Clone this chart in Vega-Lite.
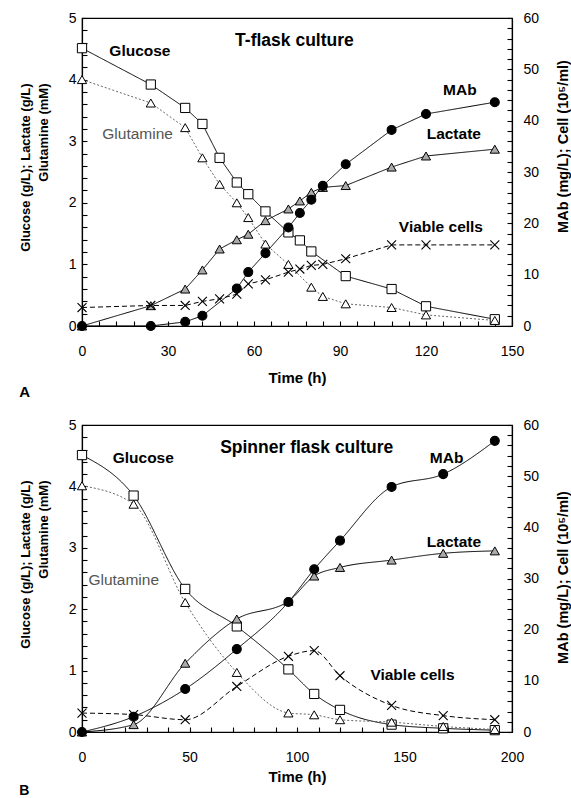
{
  "$schema": "https://vega.github.io/schema/vega-lite/v6.json",
  "padding": {"left": 18, "top": 10, "right": 0, "bottom": 0},
  "spacing": 16,
  "config": {
    "font": "Liberation Sans",
    "view": {"stroke": "black", "strokeWidth": 1.2},
    "axis": {"grid": false, "domainColor": "black", "domainWidth": 1.2, "tickColor": "black", "tickSize": -5, "tickWidth": 1.1, "labelColor": "black", "labelFontSize": 14, "labelFont": "Liberation Sans", "titleColor": "black", "titleFont": "Liberation Sans", "titleFontWeight": "bold", "labelOverlap": false, "labelFlush": false, "labelBound": false},
    "title": {"color": "black", "font": "Liberation Sans"}
  },
  "datasets": {
    "obs": [
      {"panel": "A", "series": "Glucose", "time": 0, "value": 4.51},
      {"panel": "A", "series": "Glucose", "time": 24, "value": 3.92},
      {"panel": "A", "series": "Glucose", "time": 36, "value": 3.54},
      {"panel": "A", "series": "Glucose", "time": 42, "value": 3.28},
      {"panel": "A", "series": "Glucose", "time": 48, "value": 2.73},
      {"panel": "A", "series": "Glucose", "time": 54, "value": 2.33},
      {"panel": "A", "series": "Glucose", "time": 58, "value": 2.14},
      {"panel": "A", "series": "Glucose", "time": 64, "value": 1.86},
      {"panel": "A", "series": "Glucose", "time": 72, "value": 1.52},
      {"panel": "A", "series": "Glucose", "time": 76, "value": 1.39},
      {"panel": "A", "series": "Glucose", "time": 80, "value": 1.21},
      {"panel": "A", "series": "Glucose", "time": 92, "value": 0.81},
      {"panel": "A", "series": "Glucose", "time": 108, "value": 0.6},
      {"panel": "A", "series": "Glucose", "time": 120, "value": 0.32},
      {"panel": "A", "series": "Glucose", "time": 144, "value": 0.11},
      {"panel": "A", "series": "Glutamine", "time": 0, "value": 4.0},
      {"panel": "A", "series": "Glutamine", "time": 24, "value": 3.62},
      {"panel": "A", "series": "Glutamine", "time": 36, "value": 3.22},
      {"panel": "A", "series": "Glutamine", "time": 42, "value": 2.73},
      {"panel": "A", "series": "Glutamine", "time": 48, "value": 2.3},
      {"panel": "A", "series": "Glutamine", "time": 54, "value": 2.0},
      {"panel": "A", "series": "Glutamine", "time": 58, "value": 1.76},
      {"panel": "A", "series": "Glutamine", "time": 64, "value": 1.33},
      {"panel": "A", "series": "Glutamine", "time": 72, "value": 1.0},
      {"panel": "A", "series": "Glutamine", "time": 80, "value": 0.63},
      {"panel": "A", "series": "Glutamine", "time": 84, "value": 0.48},
      {"panel": "A", "series": "Glutamine", "time": 92, "value": 0.36},
      {"panel": "A", "series": "Glutamine", "time": 108, "value": 0.3},
      {"panel": "A", "series": "Glutamine", "time": 120, "value": 0.18},
      {"panel": "A", "series": "Glutamine", "time": 144, "value": 0.09},
      {"panel": "A", "series": "Lactate", "time": 0, "value": 0},
      {"panel": "A", "series": "Lactate", "time": 24, "value": 0.33},
      {"panel": "A", "series": "Lactate", "time": 36, "value": 0.6},
      {"panel": "A", "series": "Lactate", "time": 42, "value": 0.91},
      {"panel": "A", "series": "Lactate", "time": 48, "value": 1.25},
      {"panel": "A", "series": "Lactate", "time": 54, "value": 1.4},
      {"panel": "A", "series": "Lactate", "time": 58, "value": 1.49},
      {"panel": "A", "series": "Lactate", "time": 64, "value": 1.71},
      {"panel": "A", "series": "Lactate", "time": 72, "value": 1.9},
      {"panel": "A", "series": "Lactate", "time": 76, "value": 2.03},
      {"panel": "A", "series": "Lactate", "time": 80, "value": 2.17},
      {"panel": "A", "series": "Lactate", "time": 84, "value": 2.25},
      {"panel": "A", "series": "Lactate", "time": 92, "value": 2.28},
      {"panel": "A", "series": "Lactate", "time": 108, "value": 2.58},
      {"panel": "A", "series": "Lactate", "time": 120, "value": 2.76},
      {"panel": "A", "series": "Lactate", "time": 144, "value": 2.87},
      {"panel": "A", "series": "MAb", "time": 0, "value": 0},
      {"panel": "A", "series": "MAb", "time": 24, "value": 0},
      {"panel": "A", "series": "MAb", "time": 36, "value": 0.8},
      {"panel": "A", "series": "MAb", "time": 42, "value": 2.0},
      {"panel": "A", "series": "MAb", "time": 54, "value": 7.3},
      {"panel": "A", "series": "MAb", "time": 58, "value": 10.5},
      {"panel": "A", "series": "MAb", "time": 64, "value": 14.2},
      {"panel": "A", "series": "MAb", "time": 72, "value": 19.2},
      {"panel": "A", "series": "MAb", "time": 76, "value": 22.0},
      {"panel": "A", "series": "MAb", "time": 80, "value": 24.6},
      {"panel": "A", "series": "MAb", "time": 84, "value": 27.3},
      {"panel": "A", "series": "MAb", "time": 92, "value": 31.5},
      {"panel": "A", "series": "MAb", "time": 108, "value": 38.2},
      {"panel": "A", "series": "MAb", "time": 120, "value": 41.3},
      {"panel": "A", "series": "MAb", "time": 144, "value": 43.6},
      {"panel": "A", "series": "Viable cells", "time": 0, "value": 3.6},
      {"panel": "A", "series": "Viable cells", "time": 24, "value": 4.0},
      {"panel": "A", "series": "Viable cells", "time": 36, "value": 4.0},
      {"panel": "A", "series": "Viable cells", "time": 42, "value": 4.8},
      {"panel": "A", "series": "Viable cells", "time": 48, "value": 5.3},
      {"panel": "A", "series": "Viable cells", "time": 54, "value": 6.2},
      {"panel": "A", "series": "Viable cells", "time": 58, "value": 8.2},
      {"panel": "A", "series": "Viable cells", "time": 64, "value": 9.0},
      {"panel": "A", "series": "Viable cells", "time": 72, "value": 10.5},
      {"panel": "A", "series": "Viable cells", "time": 76, "value": 11.1},
      {"panel": "A", "series": "Viable cells", "time": 80, "value": 11.8},
      {"panel": "A", "series": "Viable cells", "time": 84, "value": 12.0},
      {"panel": "A", "series": "Viable cells", "time": 92, "value": 13.1},
      {"panel": "A", "series": "Viable cells", "time": 108, "value": 15.8},
      {"panel": "A", "series": "Viable cells", "time": 120, "value": 15.8},
      {"panel": "A", "series": "Viable cells", "time": 144, "value": 15.8},
      {"panel": "B", "series": "Glucose", "time": 0, "value": 4.51},
      {"panel": "B", "series": "Glucose", "time": 24, "value": 3.85},
      {"panel": "B", "series": "Glucose", "time": 48, "value": 2.33},
      {"panel": "B", "series": "Glucose", "time": 72, "value": 1.72},
      {"panel": "B", "series": "Glucose", "time": 96, "value": 1.02},
      {"panel": "B", "series": "Glucose", "time": 108, "value": 0.62},
      {"panel": "B", "series": "Glucose", "time": 120, "value": 0.36},
      {"panel": "B", "series": "Glucose", "time": 144, "value": 0.12},
      {"panel": "B", "series": "Glucose", "time": 168, "value": 0.06},
      {"panel": "B", "series": "Glucose", "time": 192, "value": 0.03},
      {"panel": "B", "series": "Glutamine", "time": 0, "value": 4.01},
      {"panel": "B", "series": "Glutamine", "time": 24, "value": 3.71},
      {"panel": "B", "series": "Glutamine", "time": 48, "value": 2.11},
      {"panel": "B", "series": "Glutamine", "time": 72, "value": 0.97},
      {"panel": "B", "series": "Glutamine", "time": 96, "value": 0.31},
      {"panel": "B", "series": "Glutamine", "time": 108, "value": 0.28},
      {"panel": "B", "series": "Glutamine", "time": 120, "value": 0.2},
      {"panel": "B", "series": "Glutamine", "time": 144, "value": 0.16},
      {"panel": "B", "series": "Glutamine", "time": 168, "value": 0.09},
      {"panel": "B", "series": "Glutamine", "time": 192, "value": 0.04},
      {"panel": "B", "series": "Lactate", "time": 0, "value": 0},
      {"panel": "B", "series": "Lactate", "time": 24, "value": 0.12},
      {"panel": "B", "series": "Lactate", "time": 48, "value": 1.12},
      {"panel": "B", "series": "Lactate", "time": 72, "value": 1.84},
      {"panel": "B", "series": "Lactate", "time": 96, "value": 2.13},
      {"panel": "B", "series": "Lactate", "time": 108, "value": 2.54},
      {"panel": "B", "series": "Lactate", "time": 120, "value": 2.68},
      {"panel": "B", "series": "Lactate", "time": 144, "value": 2.8},
      {"panel": "B", "series": "Lactate", "time": 168, "value": 2.91},
      {"panel": "B", "series": "Lactate", "time": 192, "value": 2.95},
      {"panel": "B", "series": "MAb", "time": 0, "value": 0},
      {"panel": "B", "series": "MAb", "time": 24, "value": 3.0},
      {"panel": "B", "series": "MAb", "time": 48, "value": 8.4},
      {"panel": "B", "series": "MAb", "time": 72, "value": 16.2},
      {"panel": "B", "series": "MAb", "time": 96, "value": 25.4},
      {"panel": "B", "series": "MAb", "time": 108, "value": 31.8},
      {"panel": "B", "series": "MAb", "time": 120, "value": 37.4},
      {"panel": "B", "series": "MAb", "time": 144, "value": 47.9},
      {"panel": "B", "series": "MAb", "time": 168, "value": 50.4},
      {"panel": "B", "series": "MAb", "time": 192, "value": 56.9},
      {"panel": "B", "series": "Viable cells", "time": 0, "value": 3.7},
      {"panel": "B", "series": "Viable cells", "time": 24, "value": 3.4},
      {"panel": "B", "series": "Viable cells", "time": 48, "value": 2.4},
      {"panel": "B", "series": "Viable cells", "time": 72, "value": 8.9},
      {"panel": "B", "series": "Viable cells", "time": 96, "value": 14.8},
      {"panel": "B", "series": "Viable cells", "time": 108, "value": 15.9},
      {"panel": "B", "series": "Viable cells", "time": 120, "value": 11.0},
      {"panel": "B", "series": "Viable cells", "time": 144, "value": 5.2},
      {"panel": "B", "series": "Viable cells", "time": 168, "value": 3.2},
      {"panel": "B", "series": "Viable cells", "time": 192, "value": 2.4}
    ],
    "labels": [
      {"panel": "A", "label": "Glucose", "time": 20.2, "value": 4.47},
      {"panel": "A", "label": "T-flask culture", "time": 74.1, "value": 4.62},
      {"panel": "A", "label": "Glutamine", "time": 19.4, "value": 3.12},
      {"panel": "A", "label": "MAb", "time": 131.8, "value": 3.83},
      {"panel": "A", "label": "Lactate", "time": 129.7, "value": 3.11},
      {"panel": "A", "label": "Viable cells", "time": 125.2, "value": 1.6},
      {"panel": "B", "label": "Glucose", "time": 28.5, "value": 4.47},
      {"panel": "B", "label": "Spinner flask culture", "time": 104.5, "value": 4.62},
      {"panel": "B", "label": "Glutamine", "time": 19.4, "value": 2.48},
      {"panel": "B", "label": "MAb", "time": 169.6, "value": 4.46},
      {"panel": "B", "label": "Lactate", "time": 173, "value": 3.1},
      {"panel": "B", "label": "Viable cells", "time": 153.7, "value": 0.93}
    ]
  },
  "vconcat": [
    {
      "width": 430,
      "height": 308,
      "title": {"text": "A", "orient": "bottom", "anchor": "start", "frame": "bounds", "fontSize": 15, "fontWeight": "bold", "offset": 0},
      "layer": [
        {
          "layer": [
            {
              "data": {"name": "obs"},
              "transform": [{"filter": "datum.panel == 'A' && indexof(['Glucose','Glutamine','Lactate'], datum.series) >= 0"}],
              "mark": {"type": "line", "strokeWidth": 1},
              "encoding": {
                "x": {"field": "time", "type": "quantitative", "scale": {"domain": [0, 150], "nice": false}, "axis": {"title": "Time (h)", "titleFontSize": 15, "titlePadding": 12, "labelPadding": 23, "labelOverlap": false, "tickSize": -5, "tickCount": 200, "format": "d", "values": [0,6,12,18,24,30,36,42,48,54,60,66,72,78,84,90,96,102,108,114,120,126,132,138,144,150], "labelExpr": "datum.value % 30 == 0 ? datum.label : ''"}},
                "y": {"field": "value", "type": "quantitative", "scale": {"domain": [0, 5], "nice": false}, "axis": {"title": ["Glucose (g/L); Lactate (g/L)", "Glutamine (mM)"], "titleFontSize": 13, "titleLineHeight": 18, "titleAlign": "right", "titleY": 65, "titlePadding": 18, "labelPadding": 11, "labelOverlap": false, "tickSize": -5, "tickCount": 200, "format": ".0f", "values": [0,0.2,0.4,0.6,0.8,1,1.2,1.4,1.6,1.8,2,2.2,2.4,2.6,2.8,3,3.2,3.4,3.6,3.8,4,4.2,4.4,4.6,4.8,5], "labelExpr": "abs(datum.value - round(datum.value)) < 0.01 ? datum.label : ''"}},
                "stroke": {"field": "series", "type": "nominal", "scale": {"domain": ["Glucose","Glutamine","Lactate","MAb","Viable cells"], "range": ["black","#666666","black","black","black"]}, "legend": null},
                "strokeDash": {"field": "series", "type": "nominal", "scale": {"domain": ["Glucose","Glutamine","Lactate","MAb","Viable cells"], "range": [[1,0],[2,2],[1,0],[1,0],[5,3]]}, "legend": null}
              }
            },
            {
              "data": {"name": "obs"},
              "transform": [{"filter": "datum.panel == 'A' && indexof(['Glucose','Glutamine','Lactate'], datum.series) >= 0"}],
              "mark": {"type": "point", "filled": true, "stroke": "black", "strokeWidth": 1, "size": 85, "opacity": 1},
              "encoding": {
                "x": {"field": "time", "type": "quantitative"},
                "y": {"field": "value", "type": "quantitative"},
                "shape": {"field": "series", "type": "nominal", "scale": {"domain": ["Glucose","Glutamine","Lactate","MAb","Viable cells"], "range": ["square","triangle-up","triangle-up","circle","M-1,-1L1,1M1,-1L-1,1"]}, "legend": null},
                "fill": {"field": "series", "type": "nominal", "scale": {"domain": ["Glucose","Glutamine","Lactate","MAb","Viable cells"], "range": ["white","white","#aaaaaa","black","white"]}, "legend": null}
              }
            },
            {
              "data": {"name": "labels"},
              "transform": [{"filter": "datum.panel == 'A' && indexof(['Glucose','MAb','Lactate','Viable cells'], datum.label) >= 0"}],
              "mark": {"type": "text", "fontWeight": "bold", "fontSize": 15.5, "color": "black", "align": "center", "baseline": "middle"},
              "encoding": {"x": {"field": "time", "type": "quantitative"}, "y": {"field": "value", "type": "quantitative"}, "text": {"field": "label"}}
            },
            {
              "data": {"name": "labels"},
              "transform": [{"filter": "datum.panel == 'A' && datum.label == 'Glutamine'"}],
              "mark": {"type": "text", "fontSize": 15.5, "color": "#555555", "align": "center", "baseline": "middle"},
              "encoding": {"x": {"field": "time", "type": "quantitative"}, "y": {"field": "value", "type": "quantitative"}, "text": {"field": "label"}}
            },
            {
              "data": {"name": "labels"},
              "transform": [{"filter": "datum.panel == 'A' && datum.label == 'T-flask culture'"}],
              "mark": {"type": "text", "fontWeight": "bold", "fontSize": 17.5, "color": "black", "align": "center", "baseline": "middle"},
              "encoding": {"x": {"field": "time", "type": "quantitative"}, "y": {"field": "value", "type": "quantitative"}, "text": {"field": "label"}}
            }
          ]
        },
        {
          "layer": [
            {
              "data": {"name": "obs"},
              "transform": [{"filter": "datum.panel == 'A' && indexof(['MAb','Viable cells'], datum.series) >= 0"}],
              "mark": {"type": "line", "strokeWidth": 1},
              "encoding": {
                "x": {"field": "time", "type": "quantitative"},
                "y": {"field": "value", "type": "quantitative", "scale": {"domain": [0, 60], "nice": false}, "axis": {"orient": "right", "title": "MAb (mg/L); Cell (10⁵/ml)", "titleFontSize": 14.5, "titleAngle": 270, "titleBaseline": "top", "titleY": 128, "titlePadding": 18, "labelPadding": 16, "labelOverlap": false, "tickSize": -5, "tickCount": 200, "format": "d", "values": [0,2,4,6,8,10,12,14,16,18,20,22,24,26,28,30,32,34,36,38,40,42,44,46,48,50,52,54,56,58,60], "labelExpr": "datum.value % 10 == 0 ? datum.label : ''"}},
                "stroke": {"field": "series", "type": "nominal"},
                "strokeDash": {"field": "series", "type": "nominal"}
              }
            },
            {
              "data": {"name": "obs"},
              "transform": [{"filter": "datum.panel == 'A' && indexof(['MAb','Viable cells'], datum.series) >= 0"}],
              "mark": {"type": "point", "filled": true, "stroke": "black", "strokeWidth": 1.1, "size": 80, "opacity": 1},
              "encoding": {
                "x": {"field": "time", "type": "quantitative"},
                "y": {"field": "value", "type": "quantitative"},
                "shape": {"field": "series", "type": "nominal"},
                "fill": {"field": "series", "type": "nominal"}
              }
            }
          ]
        }
      ],
      "resolve": {"scale": {"y": "independent"}}
    },
    {
      "width": 430,
      "height": 307,
      "title": {"text": "B", "orient": "bottom", "anchor": "start", "frame": "bounds", "fontSize": 14, "fontWeight": "bold", "offset": 0},
      "layer": [
        {
          "layer": [
            {
              "data": {"name": "obs"},
              "transform": [{"filter": "datum.panel == 'B' && indexof(['Glucose','Glutamine','Lactate'], datum.series) >= 0"}],
              "mark": {"type": "line", "strokeWidth": 1, "interpolate": "monotone"},
              "encoding": {
                "x": {"field": "time", "type": "quantitative", "scale": {"domain": [0, 200], "nice": false}, "axis": {"title": "Time (h)", "titleFontSize": 15, "titlePadding": 5, "labelPadding": 23, "labelOverlap": false, "tickSize": -5, "tickCount": 200, "format": "d", "values": [0,10,20,30,40,50,60,70,80,90,100,110,120,130,140,150,160,170,180,190,200], "labelExpr": "datum.value % 50 == 0 ? datum.label : ''"}},
                "y": {"field": "value", "type": "quantitative", "scale": {"domain": [0, 5], "nice": false}, "axis": {"title": ["Glucose (g/L); Lactate (g/L)", "Glutamine (mM)"], "titleFontSize": 13, "titleLineHeight": 18, "titleAlign": "right", "titleY": 55, "titlePadding": 18, "labelPadding": 11, "labelOverlap": false, "tickSize": -5, "tickCount": 200, "format": ".0f", "values": [0,0.2,0.4,0.6,0.8,1,1.2,1.4,1.6,1.8,2,2.2,2.4,2.6,2.8,3,3.2,3.4,3.6,3.8,4,4.2,4.4,4.6,4.8,5], "labelExpr": "abs(datum.value - round(datum.value)) < 0.01 ? datum.label : ''"}},
                "stroke": {"field": "series", "type": "nominal", "scale": {"domain": ["Glucose","Glutamine","Lactate","MAb","Viable cells"], "range": ["black","#666666","black","black","black"]}, "legend": null},
                "strokeDash": {"field": "series", "type": "nominal", "scale": {"domain": ["Glucose","Glutamine","Lactate","MAb","Viable cells"], "range": [[1,0],[2,2],[1,0],[1,0],[5,3]]}, "legend": null}
              }
            },
            {
              "data": {"name": "obs"},
              "transform": [{"filter": "datum.panel == 'B' && indexof(['Glucose','Glutamine','Lactate'], datum.series) >= 0"}],
              "mark": {"type": "point", "filled": true, "stroke": "black", "strokeWidth": 1, "size": 85, "opacity": 1},
              "encoding": {
                "x": {"field": "time", "type": "quantitative"},
                "y": {"field": "value", "type": "quantitative"},
                "shape": {"field": "series", "type": "nominal", "scale": {"domain": ["Glucose","Glutamine","Lactate","MAb","Viable cells"], "range": ["square","triangle-up","triangle-up","circle","M-1,-1L1,1M1,-1L-1,1"]}, "legend": null},
                "fill": {"field": "series", "type": "nominal", "scale": {"domain": ["Glucose","Glutamine","Lactate","MAb","Viable cells"], "range": ["white","white","#aaaaaa","black","white"]}, "legend": null}
              }
            },
            {
              "data": {"name": "labels"},
              "transform": [{"filter": "datum.panel == 'B' && indexof(['Glucose','MAb','Lactate','Viable cells'], datum.label) >= 0"}],
              "mark": {"type": "text", "fontWeight": "bold", "fontSize": 15.5, "color": "black", "align": "center", "baseline": "middle"},
              "encoding": {"x": {"field": "time", "type": "quantitative"}, "y": {"field": "value", "type": "quantitative"}, "text": {"field": "label"}}
            },
            {
              "data": {"name": "labels"},
              "transform": [{"filter": "datum.panel == 'B' && datum.label == 'Glutamine'"}],
              "mark": {"type": "text", "fontSize": 15.5, "color": "#555555", "align": "center", "baseline": "middle"},
              "encoding": {"x": {"field": "time", "type": "quantitative"}, "y": {"field": "value", "type": "quantitative"}, "text": {"field": "label"}}
            },
            {
              "data": {"name": "labels"},
              "transform": [{"filter": "datum.panel == 'B' && datum.label == 'Spinner flask culture'"}],
              "mark": {"type": "text", "fontWeight": "bold", "fontSize": 17.5, "color": "black", "align": "center", "baseline": "middle"},
              "encoding": {"x": {"field": "time", "type": "quantitative"}, "y": {"field": "value", "type": "quantitative"}, "text": {"field": "label"}}
            }
          ]
        },
        {
          "layer": [
            {
              "data": {"name": "obs"},
              "transform": [{"filter": "datum.panel == 'B' && indexof(['MAb','Viable cells'], datum.series) >= 0"}],
              "mark": {"type": "line", "strokeWidth": 1, "interpolate": "monotone"},
              "encoding": {
                "x": {"field": "time", "type": "quantitative"},
                "y": {"field": "value", "type": "quantitative", "scale": {"domain": [0, 60], "nice": false}, "axis": {"orient": "right", "title": "MAb (mg/L); Cell (10⁵/ml)", "titleFontSize": 14.5, "titleAngle": 270, "titleBaseline": "top", "titleY": 152, "titlePadding": 18, "labelPadding": 16, "labelOverlap": false, "tickSize": -5, "tickCount": 200, "format": "d", "values": [0,2,4,6,8,10,12,14,16,18,20,22,24,26,28,30,32,34,36,38,40,42,44,46,48,50,52,54,56,58,60], "labelExpr": "datum.value % 10 == 0 ? datum.label : ''"}},
                "stroke": {"field": "series", "type": "nominal"},
                "strokeDash": {"field": "series", "type": "nominal"}
              }
            },
            {
              "data": {"name": "obs"},
              "transform": [{"filter": "datum.panel == 'B' && indexof(['MAb','Viable cells'], datum.series) >= 0"}],
              "mark": {"type": "point", "filled": true, "stroke": "black", "strokeWidth": 1.1, "size": 80, "opacity": 1},
              "encoding": {
                "x": {"field": "time", "type": "quantitative"},
                "y": {"field": "value", "type": "quantitative"},
                "shape": {"field": "series", "type": "nominal"},
                "fill": {"field": "series", "type": "nominal"}
              }
            }
          ]
        }
      ],
      "resolve": {"scale": {"y": "independent"}}
    }
  ]
}
